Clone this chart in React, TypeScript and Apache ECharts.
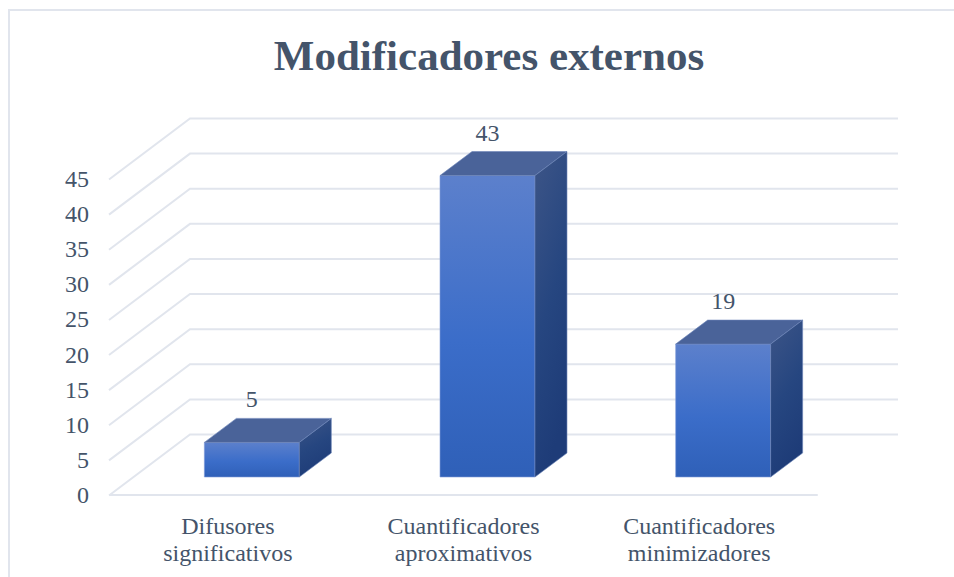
import React, { useEffect, useRef } from "react";
import * as echarts from "echarts";

const categories = ["Difusores\nsignificativos", "Cuantificadores\naproximativos", "Cuantificadores\nminimizadores"];
const values = [5, 43, 19];
const ticks = [0, 5, 10, 15, 20, 25, 30, 35, 40, 45];
const TITLE = "Modificadores externos";

const TEXT = "#44546a";
const LINE = "#e1e5ed";
const FONT = '"Liberation Serif", "Times New Roman", serif';

const grad = (x2: number, y2: number, stops: [number, string][]) => ({
  type: "linear", x: 0, y: 0, x2, y2,
  colorStops: stops.map(([offset, color]) => ({ offset, color })),
});

export default function App() {
  const ref = useRef<HTMLDivElement>(null);
  useEffect(() => {
    const chart = echarts.init(ref.current!, null, { renderer: "svg" });
    chart.setOption({
      animation: false,
      backgroundColor: "#fff",
      title: {
        text: TITLE, left: 484, top: 29, textAlign: "center",
        textStyle: { color: TEXT, fontFamily: FONT, fontWeight: "bold", fontSize: 43 },
      },
      graphic: [{
        type: "rect", z: -1, silent: true,
        shape: { x: 9, y: 10, width: 1000, height: 640 },
        style: { fill: "none", stroke: LINE, lineWidth: 2 },
      }],
      grid: { left: 110, width: 707, top: 179, height: 316, containLabel: false },
      xAxis: {
        type: "category", data: categories,
        axisLine: { show: true, lineStyle: { color: LINE, width: 2 } },
        axisTick: { show: false },
        axisLabel: { color: TEXT, fontFamily: FONT, fontSize: 24, lineHeight: 27, margin: 17, interval: 0 },
        splitLine: { show: false },
      },
      yAxis: {
        type: "value", min: 0, max: 45, interval: 5,
        axisLine: { show: false }, axisTick: { show: false }, splitLine: { show: false },
        axisLabel: { color: TEXT, fontFamily: FONT, fontSize: 24, margin: 21, padding: [2, 0, 0, 0] },
      },
      series: [
        {
          type: "custom", silent: true, z: 1, clip: false,
          data: ticks.map((t) => [0, t]),
          encode: { x: 0, y: 1 },
          renderItem: (params: any, api: any) => {
            const y = api.coord([0, api.value(1)])[1];
            const x0 = params.coordSys.x;
            return {
              type: "polyline",
              shape: { points: [[x0 - 1, y + 0.5], [x0 + 80, y - 60.5], [x0 + 788, y - 60.5]] },
              style: { fill: "none", stroke: LINE, lineWidth: 2 },
            };
          },
        },
        {
          type: "custom", silent: true, z: 2, clip: false,
          data: values.map((v, i) => [i, v]),
          encode: { x: 0, y: 1 },
          renderItem: (params: any, api: any) => {
            const [cx, top0] = api.coord([api.value(0), api.value(1)]);
            const base0 = api.coord([api.value(0), 0])[1];
            const w = api.size([1, 0])[0] * 0.403;
            const l = cx + 24 - w / 2, r = l + w;
            const b = base0 - 18, t = top0 - 17.5;
            const dx = 32, dy = 24;
            const edge = { stroke: "#7f9bd6", lineWidth: 0.6 };
            return {
              type: "group",
              children: [
                {
                  type: "polygon",
                  shape: { points: [[l, t], [r, t], [r, b], [l, b]] },
                  style: { ...edge, fill: grad(0, 1, [[0, "#5c80cc"], [0.55, "#3b6dc9"], [1, "#2f60b8"]]) },
                },
                {
                  type: "polygon",
                  shape: { points: [[l, t], [l + dx, t - dy], [r + dx, t - dy], [r, t]] },
                  style: { ...edge, stroke: "#6c84b8", fill: "#4a6399" },
                },
                {
                  type: "polygon",
                  shape: { points: [[r, t], [r + dx, t - dy], [r + dx, b - dy], [r, b]] },
                  style: { ...edge, stroke: "#6c84b8", fill: grad(0.3, 1, [[0, "#3d5587"], [0.55, "#264680"], [1, "#1e3c78"]]) },
                },
                {
                  type: "text",
                  style: {
                    x: l + w / 2, y: t - 43, text: String(api.value(1)),
                    fill: TEXT, font: `24px ${FONT}`, textAlign: "center", textVerticalAlign: "middle",
                  },
                },
              ],
            };
          },
        },
      ],
    });
    return () => chart.dispose();
  }, []);
  return <div ref={ref} style={{ position: "fixed", left: 0, top: 0, width: 954, height: 577 }} />;
}
